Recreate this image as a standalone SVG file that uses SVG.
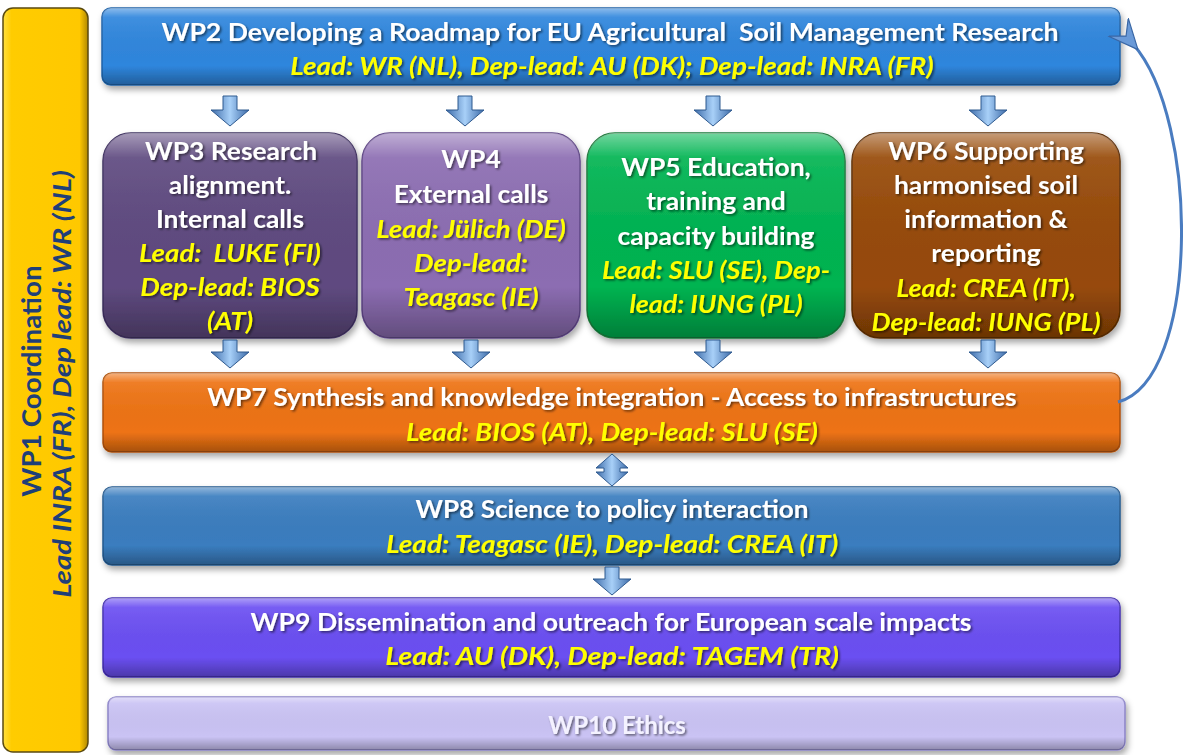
<svg xmlns="http://www.w3.org/2000/svg" width="1183" height="755" viewBox="0 0 1183 755">
<defs>
<style>
.t{font-family:Lato,"Open Sans","Liberation Sans",sans-serif;font-weight:bold;font-size:24px;fill:#fff;text-anchor:middle;filter:url(#ts)}
.l{font-family:Lato,"Open Sans","Liberation Sans",sans-serif;font-weight:bold;font-style:italic;font-size:24px;fill:#ffff00;text-anchor:middle;filter:url(#ts)}
.w1{font-family:Lato,"Open Sans","Liberation Sans",sans-serif;font-weight:bold;font-size:26px;fill:#1f3f78;text-anchor:middle}
.box{stroke-width:1.5}
.gloss{fill:url(#gl)}
.arr{fill:url(#ag);stroke:#2f5a8f;stroke-width:1}
</style>
<filter id="ts" x="-5%" y="-30%" width="110%" height="160%"><feDropShadow dx="1.5" dy="1.5" stdDeviation="0.8" flood-color="#000" flood-opacity="0.55"/></filter>
<filter id="bs" x="-5%" y="-10%" width="110%" height="130%"><feDropShadow dx="2" dy="4" stdDeviation="3" flood-color="#000" flood-opacity="0.35"/></filter>
<linearGradient id="gl" x1="0" y1="0" x2="0" y2="1">
<stop offset="0" stop-color="#fff" stop-opacity="0.45"/>
<stop offset="0.12" stop-color="#fff" stop-opacity="0.08"/>
<stop offset="0.75" stop-color="#000" stop-opacity="0"/>
<stop offset="1" stop-color="#000" stop-opacity="0.3"/>
</linearGradient>
<linearGradient id="ag" x1="0" y1="0" x2="1" y2="0">
<stop offset="0" stop-color="#3c6aa8"/>
<stop offset="0.5" stop-color="#a8d0f8"/>
<stop offset="1" stop-color="#3c6aa8"/>
</linearGradient>
<linearGradient id="yg" x1="0" y1="0" x2="1" y2="0">
<stop offset="0" stop-color="#ffe040"/>
<stop offset="0.1" stop-color="#ffcc00"/>
<stop offset="0.9" stop-color="#ffc800"/>
<stop offset="1" stop-color="#b08800"/>
</linearGradient>
<marker id="ah" viewBox="0 0 20 20" refX="5" refY="10" markerWidth="30" markerHeight="30" orient="auto-start-reverse" markerUnits="userSpaceOnUse">
<path d="M0,10 L20,1 L12,10 L20,19 Z" fill="#6a9ad8" stroke="#3a67a5" stroke-width="0.8"/>
</marker>
</defs>
<rect width="1183" height="755" fill="#fff"/>

<g id="wp1">
<rect x="3" y="8" width="85" height="744" rx="10" fill="url(#yg)" stroke="#5a4a10" stroke-width="1.5"/>
<text class="w1" transform="matrix(0 -1.07 1 0 41 381)">WP1 Coordination</text>
<text class="w1" style="font-style:italic;font-size:25px" transform="matrix(0 -1.18 1 0 71 384)">Lead INRA (FR), Dep lead: WR (NL)</text>
</g>

<g id="wp2" filter="url(#bs)">
<rect class="box" x="102" y="8" width="1018" height="77" rx="9" fill="#2f86dd" stroke="#2163a8"/>
<rect x="102" y="8" width="1018" height="77" rx="9" class="gloss"/>
<text class="t" transform="matrix(1.11 0 0 1 610 41)">WP2 Developing a Roadmap for EU Agricultural&#160; Soil Management Research</text>
<text class="l" transform="matrix(1.16 0 0 1 612 75)">Lead: WR (NL), Dep-lead: AU (DK); Dep-lead: INRA (FR)</text>
</g>

<g id="wp3" filter="url(#bs)">
<rect class="box" x="103" y="133" width="254" height="205" rx="28" fill="#5f4a80" stroke="#3f3060"/>
<rect x="103" y="133" width="254" height="205" rx="28" class="gloss"/>
<text class="t" transform="matrix(1.1 0 0 1 231 160)">WP3 Research</text>
<text class="t" transform="matrix(1.1 0 0 1 230 194)">alignment.</text>
<text class="t" transform="matrix(1.1 0 0 1 230 228)">Internal calls</text>
<text class="l" transform="matrix(1.15 0 0 1 230 262)">Lead:&#160; LUKE (FI)</text>
<text class="l" transform="matrix(1.15 0 0 1 230 296)">Dep-lead: BIOS</text>
<text class="l" transform="matrix(1.15 0 0 1 230 330)">(AT)</text>
</g>

<g id="wp4" filter="url(#bs)">
<rect class="box" x="362" y="133" width="218" height="205" rx="28" fill="#8c6db2" stroke="#5e4585"/>
<rect x="362" y="133" width="218" height="205" rx="28" class="gloss"/>
<text class="t" transform="matrix(1.1 0 0 1 471 168)">WP4</text>
<text class="t" transform="matrix(1.1 0 0 1 471 203)">External calls</text>
<text class="l" transform="matrix(1.15 0 0 1 471 238)">Lead: Jülich (DE)</text>
<text class="l" transform="matrix(1.15 0 0 1 471 272)">Dep-lead:</text>
<text class="l" transform="matrix(1.15 0 0 1 471 306)">Teagasc (IE)</text>
</g>

<g id="wp5" filter="url(#bs)">
<rect class="box" x="587" y="133" width="258" height="205" rx="28" fill="#00b451" stroke="#1d7a3c"/>
<rect x="587" y="133" width="258" height="205" rx="28" class="gloss"/>
<text class="t" transform="matrix(1.1 0 0 1 716 176)">WP5 Education,</text>
<text class="t" transform="matrix(1.1 0 0 1 716 210)">training and</text>
<text class="t" transform="matrix(1.1 0 0 1 716 245)">capacity building</text>
<text class="l" transform="matrix(1.12 0 0 1 716 279)">Lead: SLU (SE), Dep-</text>
<text class="l" transform="matrix(1.12 0 0 1 716 313)">lead: IUNG (PL)</text>
</g>

<g id="wp6" filter="url(#bs)">
<rect class="box" x="852" y="133" width="268" height="205" rx="28" fill="#974a08" stroke="#5e2e06"/>
<rect x="852" y="133" width="268" height="205" rx="28" class="gloss"/>
<text class="t" transform="matrix(1.1 0 0 1 986 160)">WP6 Supporting</text>
<text class="t" transform="matrix(1.1 0 0 1 986 194)">harmonised soil</text>
<text class="t" transform="matrix(1.1 0 0 1 986 228)">information &amp;</text>
<text class="t" transform="matrix(1.1 0 0 1 986 262)">reporting</text>
<text class="l" transform="matrix(1.12 0 0 1 986 297)">Lead: CREA (IT),</text>
<text class="l" transform="matrix(1.12 0 0 1 986 331)">Dep-lead: IUNG (PL)</text>
</g>

<g id="wp7" filter="url(#bs)">
<rect class="box" x="103" y="373" width="1017" height="79" rx="9" fill="#ee7314" stroke="#b0520a"/>
<rect x="103" y="373" width="1017" height="79" rx="9" class="gloss"/>
<text class="t" transform="matrix(1.1 0 0 1 612 406)">WP7 Synthesis and knowledge integration - Access to infrastructures</text>
<text class="l" transform="matrix(1.16 0 0 1 612 441)">Lead: BIOS (AT), Dep-lead: SLU (SE)</text>
</g>

<g id="wp8" filter="url(#bs)">
<rect class="box" x="103" y="487" width="1017" height="78" rx="9" fill="#3a7dbf" stroke="#255a8f"/>
<rect x="103" y="487" width="1017" height="78" rx="9" class="gloss"/>
<text class="t" transform="matrix(1.09 0 0 1 612 518)">WP8 Science to policy interaction</text>
<text class="l" transform="matrix(1.17 0 0 1 612 553)">Lead: Teagasc (IE), Dep-lead: CREA (IT)</text>
</g>

<g id="wp9" filter="url(#bs)">
<rect class="box" x="103" y="598" width="1017" height="79" rx="9" fill="#6b4ff2" stroke="#4430b0"/>
<rect x="103" y="598" width="1017" height="79" rx="9" class="gloss"/>
<text class="t" transform="matrix(1.11 0 0 1 611 631)">WP9 Dissemination and outreach for European scale impacts</text>
<text class="l" transform="matrix(1.2 0 0 1 612 665)">Lead: AU (DK), Dep-lead: TAGEM (TR)</text>
</g>

<g id="wp10" filter="url(#bs)">
<rect class="box" x="108" y="697" width="1017" height="53" rx="8" fill="#cac3f4" stroke="#8c84c8"/>
<rect x="108" y="697" width="1017" height="53" rx="8" class="gloss"/>
<text class="t" transform="translate(617 734)" style="fill:#f4f2ff;filter:url(#ts)">WP10 Ethics</text>
</g>

<g id="connectors">
<path class="arr" d="M223,96 h14 v14 h12 l-19,16 l-19,-16 h12 z"/>
<path class="arr" d="M458,96 h14 v14 h12 l-19,16 l-19,-16 h12 z"/>
<path class="arr" d="M706,96 h14 v14 h12 l-19,16 l-19,-16 h12 z"/>
<path class="arr" d="M981,96 h14 v14 h12 l-19,16 l-19,-16 h12 z"/>
<path class="arr" d="M223,340 h14 v12 h12 l-19,16 l-19,-16 h12 z"/>
<path class="arr" d="M464,340 h14 v12 h12 l-19,16 l-19,-16 h12 z"/>
<path class="arr" d="M706,340 h14 v12 h12 l-19,16 l-19,-16 h12 z"/>
<path class="arr" d="M981,340 h14 v12 h12 l-19,16 l-19,-16 h12 z"/>
<path class="arr" d="M612,454 l16,14 h-8 v4 h8 l-16,14 l-16,-14 h8 v-4 h-8 z"/>
<path class="arr" d="M605,567 h14 v12 h12 l-19,16 l-19,-16 h12 z"/>
<path d="M1118,402 C1200,380 1200,120 1133,44" fill="none" stroke="#4a7cc0" stroke-width="3" marker-end="url(#ah)"/>
</g>
</svg>
